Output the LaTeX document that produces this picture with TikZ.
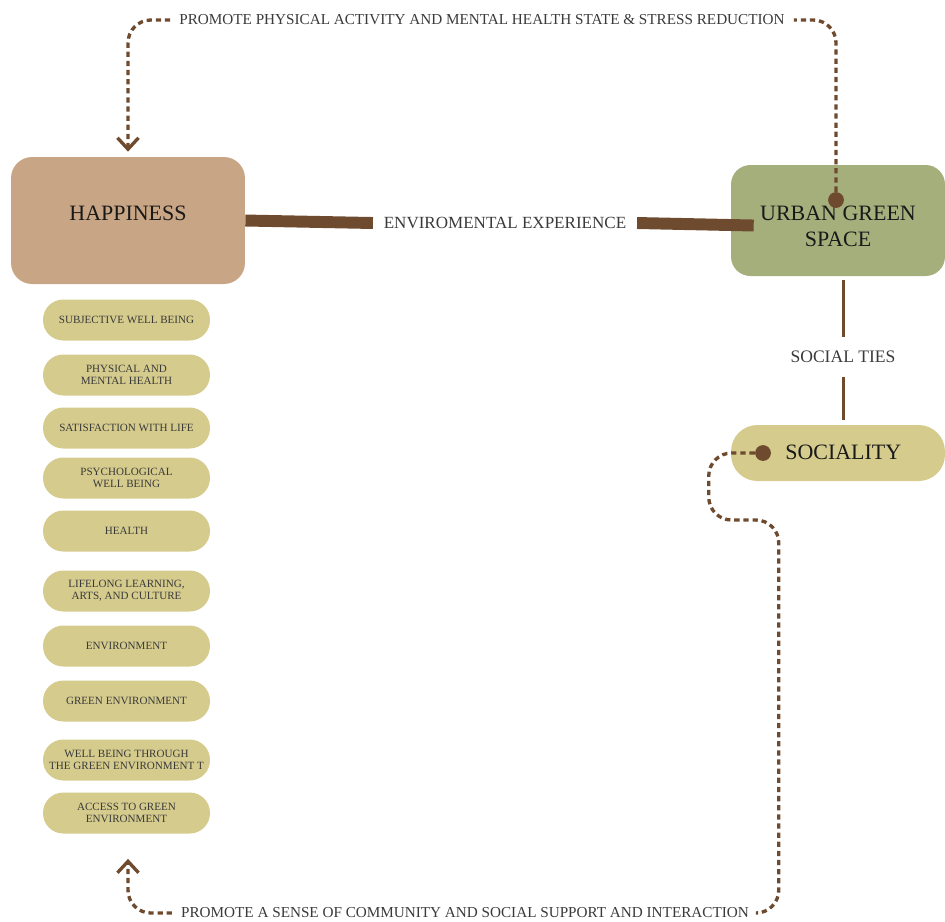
\documentclass[tikz,border=0pt]{standalone}
\usepackage{fontspec}
\setmainfont{Liberation Serif}
\usetikzlibrary{arrows.meta,positioning,calc}
\definecolor{happytan}{HTML}{C8A584}
\definecolor{ugsgreen}{HTML}{A5AF7C}
\definecolor{pillsand}{HTML}{D5CB8D}
\definecolor{barkbrown}{HTML}{6E4B2F}
\definecolor{lbltext}{HTML}{3A3A3A}
\newcommand\liftln[2]{\raisebox{#1}[\height][\depth]{#2}}
\tikzset{
  mainblk/.style={rectangle,inner sep=0pt,align=center,text=black!90,font=\fontsize{12.5}{15}\selectfont},
  happyblk/.style={mainblk,fill=happytan,rounded corners=12pt,minimum width=4.68cm,minimum height=2.54cm},
  ugsblk/.style={mainblk,fill=ugsgreen,rounded corners=11pt,minimum width=4.28cm,minimum height=2.22cm},
  socblk/.style={mainblk,fill=pillsand,rounded corners=15pt,minimum width=4.28cm,minimum height=1.12cm},
  pillblk/.style={rectangle,fill=pillsand,rounded corners=11.5pt,minimum width=3.34cm,minimum height=0.82cm,inner sep=0pt,align=center,text=lbltext,font=\fontsize{6.3}{7}\selectfont},
  edgelbl/.style={text=lbltext,inner ysep=1pt,font=\fontsize{8.65}{10}\selectfont},
  dotnode/.style={circle,fill=barkbrown,minimum size=9pt,inner sep=0pt},
  envcon/.style={barkbrown,line width=6.8pt},
  tiecon/.style={barkbrown,line width=1.7pt},
  dashcon/.style={barkbrown,line width=1.9pt,dash pattern=on 3pt off 2.2pt,rounded corners=13pt},
  tip/.style={-{Straight Barb[length=6.5pt,width=12pt]}}
}
\begin{document}
\begin{tikzpicture}[x=0.02cm,y=-0.02cm]
  \useasboundingbox (0,0) rectangle (945,921);

  % main blocks
  \node[happyblk] (happy) at (128,220.5) {\liftln{4pt}{HAPPINESS}};
  \node[ugsblk] (ugs) at (838,220.5) {\liftln{-3.4pt}{URBAN GREEN}\\\liftln{-3.4pt}{SPACE}};
  \node[socblk] (soc) at (838,453) {\hspace*{6pt}\liftln{0.5pt}{SOCIALITY}};

  % aspects of happiness
  \node[pillblk] (swb) at (126.5,320) {SUBJECTIVE WELL BEING};
  \node[pillblk] (pmh) at (126.5,375) {PHYSICAL AND\\MENTAL HEALTH};
  \node[pillblk] (swl) at (126.5,428) {SATISFACTION WITH LIFE};
  \node[pillblk] (pwb) at (126.5,478) {PSYCHOLOGICAL\\WELL BEING};
  \node[pillblk] (hlt) at (126.5,531) {HEALTH};
  \node[pillblk] (lac) at (126.5,591) {LIFELONG LEARNING,\\ARTS, AND CULTURE};
  \node[pillblk] (env) at (126.5,646) {ENVIRONMENT};
  \node[pillblk] (gen) at (126.5,701) {GREEN ENVIRONMENT};
  \node[pillblk] (wbg) at (126.5,760) {WELL BEING THROUGH\\THE GREEN ENVIRONMENT T};
  \node[pillblk] (acc) at (126.5,813) {ACCESS TO GREEN\\ENVIRONMENT};

  % link labels
  \node[edgelbl,font=\fontsize{9.7}{11}\selectfont,inner xsep=6pt] (envlbl) at (505,223) {ENVIROMENTAL EXPERIENCE};
  \node[edgelbl,font=\fontsize{10}{12}\selectfont,inner ysep=8pt] (ties) at (843,357) {SOCIAL TIES};
  \node[edgelbl,inner xsep=5pt] (toplbl) at (482,20) {PROMOTE PHYSICAL ACTIVITY AND MENTAL HEALTH STATE \& STRESS REDUCTION};
  \node[edgelbl,inner xsep=5pt] (botlbl) at (465,913) {PROMOTE A SENSE OF COMMUNITY AND SOCIAL SUPPORT AND INTERACTION};

  \node[dotnode] (ugsdot) at (836,200) {};
  \node[dotnode] (socdot) at (763,453) {};

  % connectors
  \draw[envcon] (happy.east) -- (envlbl.west);
  \draw[envcon] (envlbl.east) -- ($(ugs.west)+(23,5)$);
  \draw[tiecon] ($(ties.north |- ugs.south)+(0,4)$) -- (ties.north);
  \draw[tiecon] (ties.south) -- ($(ties.south |- soc.north)+(0,-5)$);

  \draw[dashcon] (ugsdot.north) |- (toplbl.east);
  \draw[dashcon,tip] (toplbl.west) -| ($(happy.north)+(0,-5)$);
  \draw[dashcon] (socdot.west) -- ++(-46,0) -- ++(0,67) -- ++(70,0) |- (botlbl.east);
  \draw[dashcon,tip] (botlbl.west) -| ($(acc.south)+(1.5,25)$);
\end{tikzpicture}
\end{document}
